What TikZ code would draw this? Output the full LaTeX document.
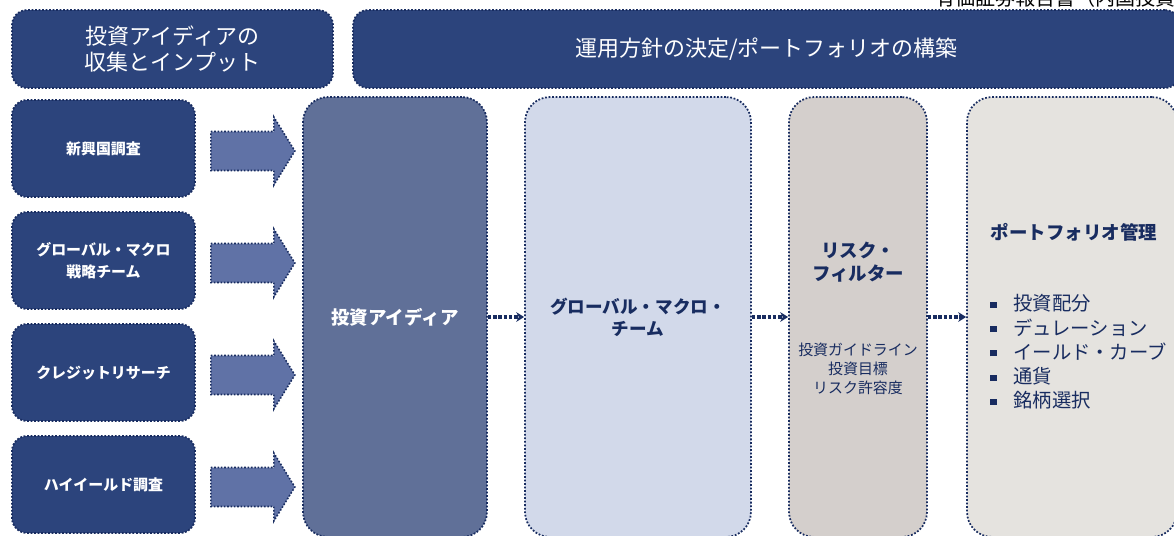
\documentclass[tikz,border=0pt]{standalone}
\usepackage{fontspec}
\setmainfont{Noto Sans CJK JP}
\usetikzlibrary{calc,arrows.meta}

\definecolor{navy}{RGB}{44,68,124}
\definecolor{edgenavy}{RGB}{24,44,96}
\definecolor{arrowblue}{RGB}{96,114,166}
\definecolor{ideablue}{RGB}{96,112,152}
\definecolor{paleblue}{RGB}{210,217,234}
\definecolor{riskgray}{RGB}{212,207,204}
\definecolor{pmgray}{RGB}{229,227,223}

\newcommand{\sq}{\makebox[0.46cm][l]{\rule[0.15em]{3.5pt}{3.5pt}}}

\begin{document}
\begin{tikzpicture}[x=0.02cm, y=-0.02cm,
  box/.style={draw=edgenavy, densely dotted, line width=1pt, rounded corners=0.3cm, align=center, inner sep=0pt},
  hdr/.style={box, fill=navy, text=white, font=\fontsize{12.5}{14.8}\selectfont, minimum height=1.56cm},
  src/.style={box, fill=navy, text=white, font=\bfseries\fontsize{8.5}{12.5}\selectfont, minimum width=3.66cm, minimum height=1.94cm},
  col/.style={box, rounded corners=0.5cm, minimum height=8.8cm, text=edgenavy},
  fatarrow/.style={draw=edgenavy, densely dotted, line width=0.9pt, fill=arrowblue},
  link/.style={draw=edgenavy, densely dotted, line width=2pt, -{Stealth[length=4.5pt,width=5.5pt]}}]

  \useasboundingbox (0,0) rectangle (1174,535);

  \node[anchor=base west, inner sep=0pt, font=\fontsize{11.4}{12}\selectfont] (doc) at (935,5) {有価証券報告書（内国投資};

  % headers
  \node[hdr, minimum width=6.42cm] (collect) at (172.5,49) {投資アイディアの\\収集とインプット};
  \node[hdr, minimum width=16.54cm] (build) at (766.5,49) {運用方針の決定/ポートフォリオの構築};

  % sources
  \node[src] (src1) at (103.5,148.5) {新興国調査};
  \node[src] (src2) at (103.5,260.5) {グローバル・マクロ\\戦略チーム};
  \node[src] (src3) at (103.5,372.5) {クレジットリサーチ};
  \node[src] (src4) at (103.5,484.5) {ハイイールド調査};

  % columns
  \node[col, fill=ideablue, text=white, minimum width=3.68cm, font=\bfseries\fontsize{10.5}{13}\selectfont] (idea) at (395,317) {投資アイディア};
  \node[col, fill=paleblue, minimum width=4.52cm, font=\bfseries\fontsize{10}{12.5}\selectfont] (macro) at (638,317) {グローバル・マクロ・\\チーム};
  \node[col, fill=riskgray, minimum width=2.76cm] (risk) at (858,317) {};
  \node[col, fill=pmgray, minimum width=4.2cm] (pm) at (1072,317) {};

  \node[text=edgenavy, align=center, font=\bfseries\fontsize{10.5}{13}\selectfont] (riskhead) at (858,262) {リスク・\\フィルター};
  \node[text=edgenavy, align=center, font=\fontsize{8.5}{10.8}\selectfont] (risknote) at (858,369) {投資ガイドライン\\投資目標\\リスク許容度};
  \node[text=edgenavy, font=\bfseries\fontsize{10.5}{13}\selectfont] (pmhead) at (1074,232) {ポートフォリオ管理};
  \node[anchor=west, align=left, inner sep=0pt, text=edgenavy, font=\fontsize{11}{13.8}\selectfont] (pmlist) at (990,352)
    {\sq 投資配分\\\sq デュレーション\\\sq イールド・カーブ\\\sq 通貨\\\sq 銘柄選択};

  % block arrows
  \foreach \i in {1,...,4}
    \filldraw[fatarrow] ($(src\i.east)+(15,-17)$) -- ++(63,0) -- ++(0,-14.5) -- ++(21,34) -- ++(-21,34) -- ++(0,-14.5) -- ++(-63,0) -- cycle;

  \draw[link] (idea) -- (macro);
  \draw[link] (macro) -- (risk);
  \draw[link] (risk) -- (pm);

\end{tikzpicture}
\end{document}
